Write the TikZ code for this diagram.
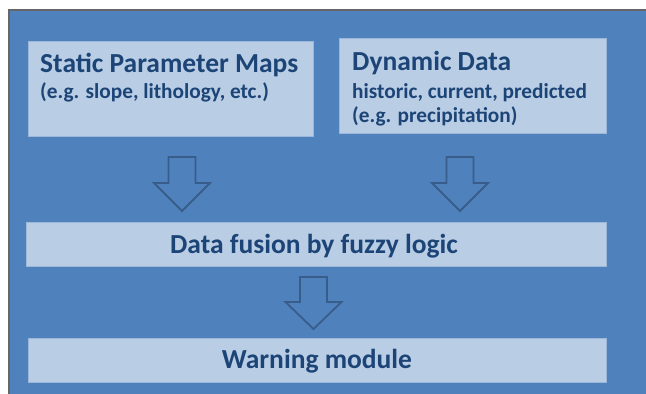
\documentclass[tikz,border=0pt]{standalone}
\usepackage{fontspec}
\setmainfont{Carlito}
\definecolor{bgblue}{HTML}{4F81BD}
\definecolor{boxfill}{HTML}{B9CDE5}
\definecolor{boxedge}{HTML}{9DB7DA}
\definecolor{txtblue}{HTML}{1C4476}
\definecolor{arrblue}{HTML}{385D8A}
\tikzset{
  panel/.style={draw=boxedge, line width=0.8pt, fill=boxfill, inner sep=0pt, outer sep=0pt},
  title/.style={anchor=base west, inner sep=0pt, text=txtblue, font=\bfseries\fontsize{27.5}{32}\selectfont},
  sub/.style={anchor=base west, inner sep=0pt, text=txtblue, font=\bfseries\fontsize{21.3}{25}\selectfont},
  ctitle/.style={anchor=base, inner sep=0pt, text=txtblue, font=\bfseries\fontsize{27.5}{32}\selectfont},
  hollow/.style={draw=arrblue, line width=1.8pt, line join=miter}
}
\newcommand\hollowarrow[4]{%
  \draw[hollow] (#1-13.5,#2) -- (#1+13.5,#2) -- (#1+13.5,#3) -- (#1+28,#3) -- (#1,#4) -- (#1-28,#3) -- (#1-13.5,#3) -- cycle;}
\begin{document}
\begin{tikzpicture}[x=1pt,y=-1pt]
\useasboundingbox (0,0) rectangle (646,394);
\fill[white] (0,0) rectangle (646,394);
\fill[bgblue] (9,10) rectangle (648,396);
\draw[gray!80!black, line width=1.2pt] (9,396) -- (9,10) -- (648,10);
% boxes
\node[panel, minimum width=285pt, minimum height=95pt] (static) at (170.5,88.5) {};
\node[panel, minimum width=267pt, minimum height=95pt] (dynamic) at (472.5,85.5) {};
\node[panel, minimum width=580pt, minimum height=44pt] (fusion) at (316,244) {};
\node[panel, minimum width=578pt, minimum height=44pt] (warning) at (317,360) {};
% texts
\node[title] (t1) at (40,72) {Static Parameter Maps};
\node[sub] (t2) at (40,98) {(e.g. slope, lithology, etc.)};
\node[title] (t3) at (352,70) {Dynamic Data};
\node[sub] (t4) at (352,98) {historic, current, predicted};
\node[sub] (t5) at (352,122) {(e.g. precipitation)};
\node[ctitle] (t6) at (314,253) {Data fusion by fuzzy logic};
\node[ctitle] (t7) at (317,368) {Warning module};
% arrows
\hollowarrow{182}{157}{183}{211}
\hollowarrow{460}{157}{183}{211}
\hollowarrow{313.5}{277}{302}{329}
\end{tikzpicture}
\end{document}
